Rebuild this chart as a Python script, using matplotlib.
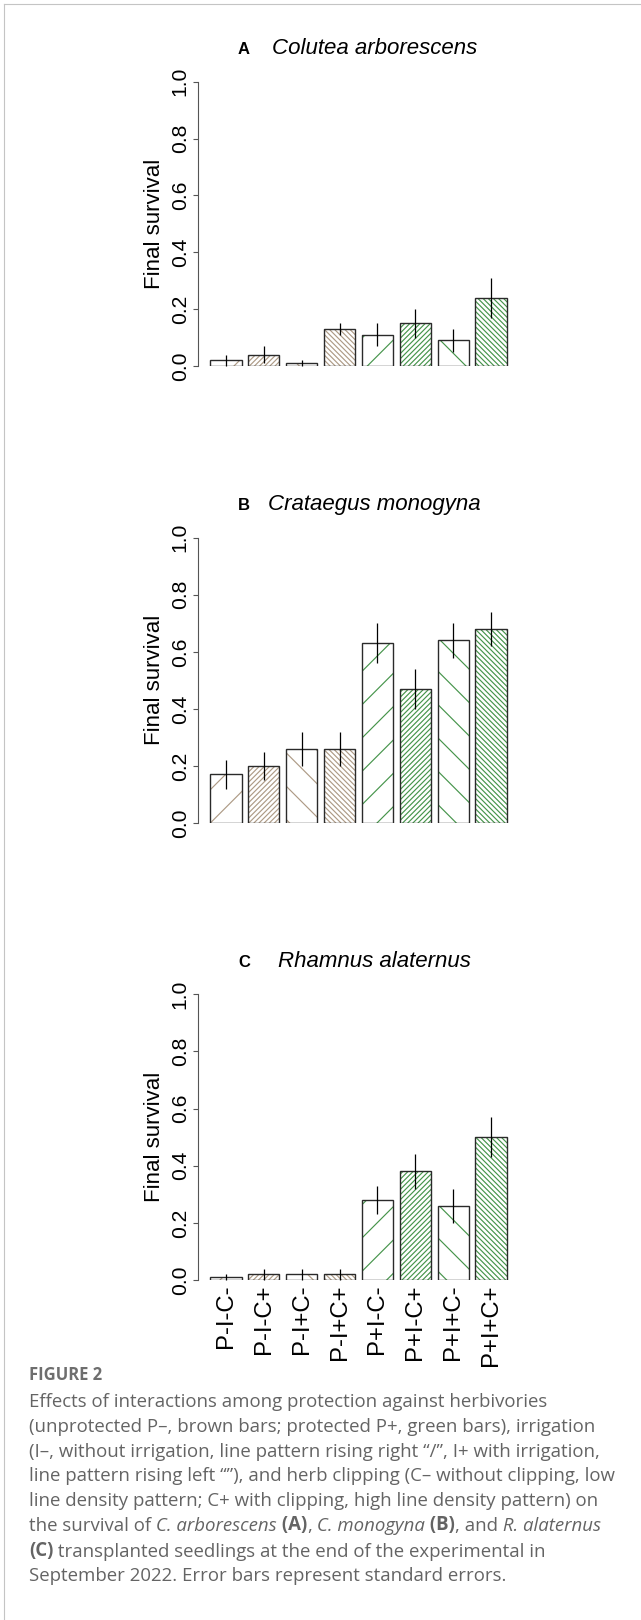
import numpy as np
import matplotlib.pyplot as plt
from matplotlib.lines import Line2D
from matplotlib.ticker import FormatStrFormatter

# figure is 641 x 1620 px; dpi 200 so the hatch density matches R's density lines
W, H, DPI = 641, 1620, 200

treat = ['P-I-C-', 'P-I-C+', 'P-I+C-', 'P-I+C+', 'P+I-C-', 'P+I-C+', 'P+I+C-', 'P+I+C+']

colutea = [0.02, 0.04, 0.01, 0.13, 0.11, 0.15, 0.09, 0.24]
colutea_se = [0.02, 0.03, 0.01, 0.02, 0.04, 0.05, 0.04, 0.07]
crataegus = [0.17, 0.20, 0.26, 0.26, 0.63, 0.47, 0.64, 0.68]
crataegus_se = [0.05, 0.05, 0.06, 0.06, 0.07, 0.07, 0.06, 0.06]
rhamnus = [0.01, 0.02, 0.02, 0.02, 0.28, 0.38, 0.26, 0.50]
rhamnus_se = [0.01, 0.02, 0.02, 0.02, 0.05, 0.06, 0.06, 0.07]

brown = '#ad9a85'
green = '#45944a'
hatch_col = [brown] * 4 + [green] * 4
hatches = ['//', '/' * 13, '\\\\', '\\' * 13] * 2

plt.rcParams['font.family'] = ['Liberation Sans', 'DejaVu Sans']
plt.rcParams['hatch.linewidth'] = 0.42

fig = plt.figure(figsize=(W / DPI, H / DPI), dpi=DPI)


def px(x):
    return x / W


def py(y):
    return 1 - y / H


# (letter, species, means, se, y of 1.0, y of 0.0, x where species name starts)
panels = [
    ('A', 'Colutea arborescens', colutea, colutea_se, 81.7, 366, 272),
    ('B', 'Crataegus monogyna', crataegus, crataegus_se, 537.7, 823, 268),
    ('C', 'Rhamnus alaternus', rhamnus, rhamnus_se, 994.3, 1280, 278),
]

xpos = 0.7 + 1.2 * np.arange(len(treat))
left, right = 198, 519

for k, (let, name, vals, se, ytop, yzero, namex) in enumerate(panels):
    ax = fig.add_axes([px(left), py(yzero), px(right - left), (yzero - ytop) / H])
    ax.bar(xpos, vals, width=1, color='none', edgecolor=hatch_col, hatch=hatches, linewidth=0)
    ax.bar(xpos, vals, width=1, fill=False, edgecolor='#2a2a2a', linewidth=0.5)
    ax.errorbar(xpos, vals, yerr=se, fmt='none', ecolor='black', elinewidth=0.45,
                capsize=0, clip_on=False)
    ax.set_xlim(-0.176, 9.976)
    ax.set_ylim(0, 1)
    for s in ['top', 'right', 'bottom']:
        ax.spines[s].set_visible(False)
    ax.spines['left'].set_color('#555555')
    ax.spines['left'].set_linewidth(0.4)
    ax.set_yticks(np.arange(0, 1.01, 0.2))
    ax.yaxis.set_major_formatter(FormatStrFormatter('%.1f'))
    ax.tick_params(axis='y', length=1.8, width=0.4, color='#555555', pad=1.2, labelsize=7.6)
    for t in ax.get_yticklabels():
        t.set_rotation(90)
        t.set_va('center')
    if k == 2:
        ax.set_xticks(xpos, treat, rotation=90)
        ax.tick_params(axis='x', length=0, pad=1.6, labelsize=8.6)
    else:
        ax.set_xticks([])
    ax.text((154 - left) / (right - left), 0.5, 'Final survival', rotation=90,
            ha='center', va='center', transform=ax.transAxes, fontsize=8)
    base = ytop - 27.7
    fig.text(px(244), py(base), let, fontsize=6, fontweight='bold', ha='center', va='baseline')
    fig.text(px(namex), py(base), name, fontsize=8, style='italic', ha='left', va='baseline')

# page frame lines of the screenshot
fig.add_artist(Line2D([px(4), 1], [py(4), py(4)], color='#c4c4c4', lw=0.4))
fig.add_artist(Line2D([px(4), px(4)], [py(4), 0], color='#c4c4c4', lw=0.4))

# caption
cap = fig.add_axes([0, 0, 1, 1])
cap.axis('off')
cap.set_xlim(0, 1)
cap.set_ylim(0, 1)
capfont = dict(family=['Open Sans', 'DejaVu Sans'], fontsize=6.7, color='#646464')
cx = px(29)

cap.text(cx, py(1375), 'FIGURE 2', ha='left', va='center', fontweight='bold',
         **dict(capfont, fontsize=6.0, color='#6e6e6e'))

lines = [
    [('Effects of interactions among protection against herbivories', 'normal', 'normal')],
    [('(unprotected P\u2013, brown bars; protected P+, green bars), irrigation', 'normal', 'normal')],
    [('(I\u2013, without irrigation, line pattern rising right \u201c/\u201d, I+ with irrigation,', 'normal', 'normal')],
    [('line pattern rising left \u201c\u201d), and herb clipping (C\u2013 without clipping, low', 'normal', 'normal')],
    [('line density pattern; C+ with clipping, high line density pattern) on', 'normal', 'normal')],
    [('the survival of', 'normal', 'normal'), (' C. arborescens', 'italic', 'normal'),
     (' (A)', 'normal', 'bold'), (',', 'normal', 'normal'), (' C. monogyna', 'italic', 'normal'),
     (' (B)', 'normal', 'bold'), (', and', 'normal', 'normal'), (' R. alaternus', 'italic', 'normal')],
    [('(C)', 'normal', 'bold'), (' transplanted seedlings at the end of the experimental in', 'normal', 'normal')],
    [('September 2022. Error bars represent standard errors.', 'normal', 'normal')],
]

y0 = 1402
for i, parts in enumerate(lines):
    y = py(y0 + 24.8 * i)
    s, st, wt = parts[0]
    prev = cap.text(cx, y, s, ha='left', va='center', style=st, fontweight=wt, **capfont)
    for s, st, wt in parts[1:]:
        prev = cap.annotate(s, xy=(1, 0), xycoords=prev, ha='left', va='bottom',
                            style=st, fontweight=wt, **capfont)

fig.savefig('out.png', dpi=DPI)
